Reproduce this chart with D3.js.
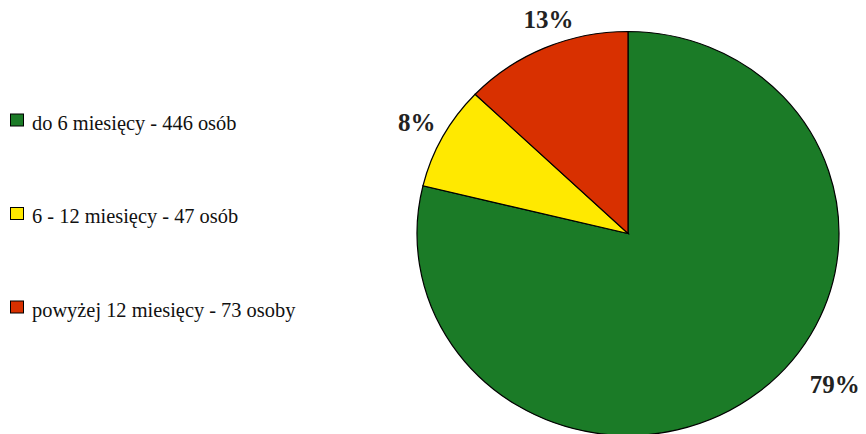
<!DOCTYPE html>
<html><head><meta charset="utf-8">
<script src="https://cdn.jsdelivr.net/npm/d3@7"></script>
<style>html,body{margin:0;padding:0;background:#fff;}svg{display:block;}</style>
</head><body>
<svg id="c" width="866" height="434"></svg>
<script>
const categories = ["do 6 miesięcy - 446 osób", "6 - 12 miesięcy - 47 osób", "powyżej 12 miesięcy - 73 osoby"];
const values = [446, 47, 73];
const pctLabels = ["79%", "8%", "13%"];
const colors = ["#1b7b27", "#ffe900", "#d83000"];

const FONT = "'Liberation Serif', 'Times New Roman', serif";
const cx = 628, cy = 233.5, rx = 211, ry = 202;
const svg = d3.select("#c");

const pie = d3.pie().sort(null).value(d => d)(values);
const arc = d3.arc().innerRadius(0).outerRadius(rx);

const g = svg.append("g").attr("transform", `translate(${cx},${cy}) scale(1,${ry/rx})`);
g.selectAll("path").data(pie).join("path")
  .attr("d", arc)
  .attr("fill", (d,i) => colors[i])
  .attr("stroke", "#000")
  .attr("stroke-width", 1.2)
  .attr("vector-effect", "non-scaling-stroke");

// percentage labels outside the pie
const labelR = 232;
const nudge = [[0, 0], [-7.5, 4], [12, -1]];
pie.forEach((d, i) => {
  const a = (d.startAngle + d.endAngle) / 2;
  let x = cx + labelR * Math.sin(a);
  let y = cy - labelR * Math.cos(a) * ry / rx;
  if (i === 0) { x = cx + rx * 0.98; y = cy + ry * 0.79; }
  svg.append("text")
    .attr("x", x + nudge[i][0]).attr("y", y + nudge[i][1])
    .attr("text-anchor", "middle")
    .attr("font-family", FONT)
    .attr("font-weight", "bold")
    .attr("font-size", 25)
    .attr("fill", "#222")
    .text(pctLabels[i]);
});

// legend
const ly = d3.scalePoint().domain(categories).range([120, 307]);
const lg = svg.append("g");
categories.forEach((c, i) => {
  const y = ly(c);
  lg.append("rect").attr("x", 10.5).attr("y", y - 6).attr("width", 13).attr("height", 12)
    .attr("fill", colors[i]).attr("stroke", "#000").attr("stroke-width", 1);
  lg.append("text").attr("x", 32).attr("y", y + 9.5)
    .attr("font-family", FONT)
    .attr("font-size", 20.4).attr("fill", "#111")
    .text(c);
});
</script>
</body></html>
